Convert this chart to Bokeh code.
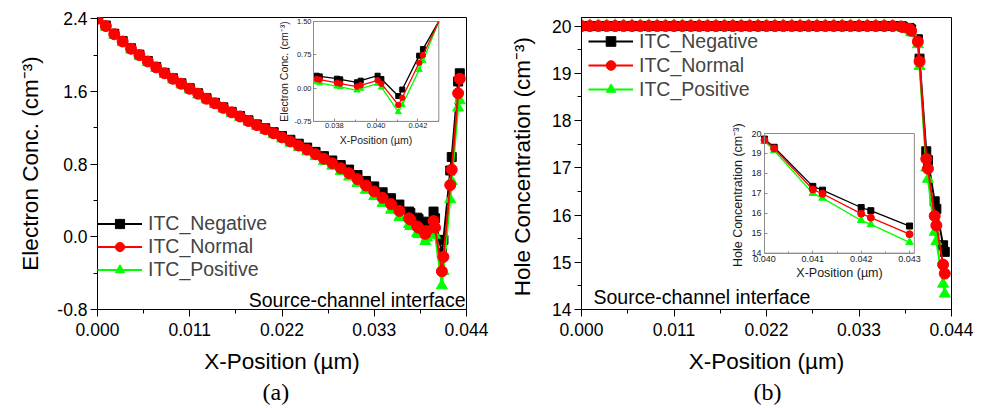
from bokeh.plotting import figure
from bokeh.models import (Range1d, LinearAxis, FixedTicker, PrintfTickFormatter,
                          Legend, LegendItem, Label, Title)
from bokeh.layouts import row
from bokeh.embed import file_html
from bokeh.resources import INLINE

# ------------------------------------------------------------------ data
series_names = ["ITC_Negative", "ITC_Normal", "ITC_Positive"]
series_colors = ["#000000", "#ff0000", "#00ff00"]
series_markers = ["square", "circle", "triangle"]

x_ticks = [0.000, 0.011, 0.022, 0.033, 0.044]
x_minor = [0.0055, 0.0165, 0.0275, 0.0385]
elec_ticks = [-0.8, 0.0, 0.8, 1.6, 2.4]
elec_minor = [-0.4, 0.4, 1.2, 2.0]
hole_ticks = [14, 15, 16, 17, 18, 19, 20]
hole_minor = [14.5, 15.5, 16.5, 17.5, 18.5, 19.5]
inset_a_xticks = [0.038, 0.040, 0.042]
inset_a_xminor = [0.037, 0.039, 0.041, 0.043]
inset_a_yticks = [-0.75, 0.0, 0.75, 1.50]
inset_b_xticks = [0.040, 0.041, 0.042, 0.043]
inset_b_xminor = [0.0405, 0.0415, 0.0425]
inset_b_yticks = [14, 15, 16, 17, 18, 19, 20]

# panel (a): electron concentration
elec_x = [0.000, 0.001, 0.002, 0.003, 0.004, 0.005, 0.006, 0.007, 0.008, 0.009,
          0.010, 0.011, 0.012, 0.013, 0.014, 0.015, 0.016, 0.017, 0.018, 0.019,
          0.020, 0.021, 0.022, 0.023, 0.024, 0.025, 0.026, 0.027, 0.028, 0.029,
          0.030, 0.031, 0.032, 0.033, 0.034, 0.035, 0.036,
          0.03715, 0.0373, 0.03812, 0.03828, 0.03908, 0.03926, 0.04007, 0.04025,
          0.04106, 0.04125, 0.04206, 0.04224, 0.0430, 0.0432]
elec_neg = [2.40, 2.325, 2.235, 2.155, 2.075, 2.005, 1.935, 1.87, 1.805, 1.745,
            1.69, 1.635, 1.58, 1.525, 1.475, 1.425, 1.375, 1.33, 1.282, 1.237,
            1.195, 1.152, 1.11, 1.068, 1.025, 0.982, 0.935, 0.888, 0.84, 0.79,
            0.74, 0.68, 0.615, 0.555, 0.49, 0.425, 0.355,
            0.278, 0.263, 0.211, 0.196, 0.13, 0.167, 0.278, 0.204,
            -0.18, -0.033, 0.73, 0.878, 1.71, 1.80]
elec_norm = [2.40, 2.32, 2.23, 2.15, 2.07, 2.00, 1.93, 1.865, 1.80, 1.74,
             1.685, 1.63, 1.575, 1.52, 1.47, 1.42, 1.37, 1.325, 1.275, 1.23,
             1.185, 1.14, 1.095, 1.05, 1.005, 0.96, 0.91, 0.86, 0.81, 0.755,
             0.70, 0.635, 0.565, 0.50, 0.43, 0.36, 0.285,
             0.204, 0.19, 0.115, 0.10, 0.033, 0.063, 0.174, 0.10,
             -0.38, -0.22, 0.57, 0.74, 1.58, 1.74]
elec_pos = [2.39, 2.31, 2.22, 2.14, 2.06, 1.99, 1.92, 1.855, 1.79, 1.73,
            1.675, 1.62, 1.565, 1.51, 1.46, 1.41, 1.36, 1.315, 1.265, 1.218,
            1.172, 1.126, 1.08, 1.032, 0.985, 0.938, 0.885, 0.832, 0.78, 0.72,
            0.66, 0.59, 0.515, 0.445, 0.37, 0.295, 0.215,
            0.137, 0.115, 0.04, 0.026, -0.05, -0.011, 0.10, 0.019,
            -0.537, -0.38, 0.41, 0.611, 1.42, 1.50]
# where the inset (a) curves leave its top-right corner (line end, no marker)
inset_a_end_x = [0.0430]
inset_a_end_y = [1.50, 1.50, 1.50]

# panel (b): hole concentration
hole_x = [0.000, 0.001, 0.002, 0.003, 0.004, 0.005, 0.006, 0.007, 0.008, 0.009,
          0.010, 0.011, 0.012, 0.013, 0.014, 0.015, 0.016, 0.017, 0.018, 0.019,
          0.020, 0.021, 0.022, 0.023, 0.024, 0.025, 0.026, 0.027, 0.028, 0.029,
          0.030, 0.031, 0.032, 0.033, 0.034, 0.035, 0.036, 0.037,
          0.038, 0.0382, 0.039, 0.0392, 0.040, 0.0402, 0.041, 0.0412,
          0.042, 0.0422, 0.043, 0.0432]
hole_neg = [20.0, 20.0, 20.0, 20.0, 20.0, 20.0, 20.0, 20.0, 20.0, 20.0,
            20.0, 20.0, 20.0, 20.0, 20.0, 20.0, 20.0, 20.0, 20.0, 20.0,
            20.0, 20.0, 20.0, 20.0, 20.0, 20.0, 20.0, 20.0, 20.0, 20.0,
            20.0, 20.0, 20.0, 20.0, 20.0, 20.0, 20.0, 20.0,
            20.0, 19.99, 19.96, 19.93, 19.72, 19.31, 17.35, 17.16,
            16.29, 16.13, 15.36, 15.22]
hole_norm = [20.0, 20.0, 20.0, 20.0, 20.0, 20.0, 20.0, 20.0, 20.0, 20.0,
             20.0, 20.0, 20.0, 20.0, 20.0, 20.0, 20.0, 20.0, 20.0, 20.0,
             20.0, 20.0, 20.0, 20.0, 20.0, 20.0, 20.0, 20.0, 20.0, 20.0,
             20.0, 20.0, 20.0, 20.0, 20.0, 20.0, 20.0, 20.0,
             19.99, 19.98, 19.94, 19.90, 19.67, 19.25, 17.19, 16.98,
             15.98, 15.78, 14.95, 14.76]
hole_pos = [20.02, 20.02, 20.02, 20.02, 20.02, 20.02, 20.02, 20.02, 20.02, 20.02,
            20.02, 20.02, 20.02, 20.02, 20.02, 20.02, 20.02, 20.02, 20.02, 20.02,
            20.02, 20.02, 20.02, 20.02, 20.02, 20.02, 20.02, 20.02, 20.02, 20.02,
            20.02, 20.02, 20.02, 20.02, 20.02, 20.02, 20.02, 20.01,
            19.98, 19.96, 19.92, 19.86, 19.61, 19.15, 17.00, 16.76,
            15.64, 15.44, 14.54, 14.33]

# ------------------------------------------------------------------ style
FONT = "Liberation Sans"
SERIF = "Liberation Serif"
INSET_GREY = "#8c8c8c"


def lin_range(v0, v1, p0, p1, f0, f1):
    """Range whose ends sit at pixels f0/f1 when v0->p0 and v1->p1."""
    k = (v1 - v0) / (p1 - p0)
    return Range1d(v0 + (f0 - p0) * k, v0 + (f1 - p0) * k)


def style_axis(ax, tick_px, label_px, tick_out, tick_in, minor_out, minor_in,
               standoff, label_standoff, line_color="#000000", text_color="#000000"):
    ax.major_label_text_font = FONT
    ax.major_label_text_font_size = f"{tick_px}px"
    ax.major_label_text_color = text_color
    ax.axis_label_text_font = FONT
    ax.axis_label_text_font_size = f"{label_px}px"
    ax.axis_label_text_font_style = "normal"
    ax.axis_label_text_color = text_color
    ax.axis_line_color = line_color
    ax.axis_line_width = 1
    ax.major_tick_line_color = line_color
    ax.minor_tick_line_color = line_color
    ax.major_tick_out = tick_out
    ax.major_tick_in = tick_in
    ax.minor_tick_out = minor_out
    ax.minor_tick_in = minor_in
    ax.major_label_standoff = standoff
    ax.axis_label_standoff = label_standoff


def make_main(width, height, bl, br, bt, bb, y_range, yticks, yminor, yfmt, ylabel,
              ylabel_standoff):
    p = figure(width=width, height=height, output_backend="svg", toolbar_location=None,
               x_range=Range1d(0.0, 0.044), y_range=y_range,
               min_border_left=bl, min_border_right=br, min_border_top=bt,
               min_border_bottom=bb)
    p.xgrid.visible = False
    p.ygrid.visible = False
    p.outline_line_color = "#000000"
    p.outline_line_width = 1
    p.background_fill_color = "white"
    p.border_fill_color = "white"
    p.xaxis.ticker = FixedTicker(ticks=x_ticks, minor_ticks=x_minor)
    p.xaxis.formatter = PrintfTickFormatter(format="%.3f")
    p.xaxis.axis_label = "X-Position (µm)"
    p.yaxis.ticker = FixedTicker(ticks=yticks, minor_ticks=yminor)
    p.yaxis.formatter = PrintfTickFormatter(format=yfmt)
    p.yaxis.axis_label = ylabel
    for ax in p.xaxis:
        style_axis(ax, 17.5, 22.5, 7, 0, 4, 0, 6, 10)
    for ax in p.yaxis:
        style_axis(ax, 17.5, 22.5, 7, 0, 4, 0, 3, ylabel_standoff)
    return p


def draw_series(p, xs, ys_list, sizes, lw, n_mark=None, **rng):
    items = []
    order = [0, 2, 1]  # red drawn on top
    rends = {}
    m = len(xs) if n_mark is None else n_mark
    for i in order:
        ln = p.line(xs, ys_list[i], line_color=series_colors[i], line_width=lw, **rng)
        sc = p.scatter(xs[:m], ys_list[i][:m], marker=series_markers[i], size=sizes[i],
                       fill_color=series_colors[i], line_color=series_colors[i], **rng)
        rends[i] = [ln, sc]
    for i in range(3):
        items.append(LegendItem(label=series_names[i], renderers=rends[i]))
    return items


def add_legend(p, items, loc, glyph_h):
    lg = Legend(items=items, location=loc, padding=0, margin=0, spacing=0,
                glyph_width=45, glyph_height=glyph_h, label_height=glyph_h,
                label_standoff=6, label_text_font=FONT, label_text_font_size="19.5px",
                border_line_alpha=0, background_fill_alpha=0)
    p.add_layout(lg, "center")


def add_inset(p, xs, ys_list, box_x, box_y, xticks, xminor, yticks, xfmt, yfmt,
              ylabel, tick_px, label_px, sizes, xl_standoff, yl_standoff, tstand,
              n_mark=None):
    p.quad(left=box_x[0], right=box_x[1], bottom=box_y[0], top=box_y[1],
           fill_color="white", line_color=INSET_GREY, line_width=1,
           x_range_name="ix", y_range_name="iy")
    draw_series(p, xs, ys_list, sizes, 1.3, n_mark=n_mark,
                x_range_name="ix", y_range_name="iy")
    ax = LinearAxis(x_range_name="ix", y_range_name="iy", fixed_location=box_y[0],
                    bounds=box_x, ticker=FixedTicker(ticks=xticks, minor_ticks=xminor),
                    formatter=PrintfTickFormatter(format=xfmt),
                    axis_label="X-Position (µm)")
    style_axis(ax, tick_px, label_px, 0, 3, 0, 2, tstand, xl_standoff,
               line_color=INSET_GREY, text_color="#1a1a1a")
    p.add_layout(ax, "below")
    ay = LinearAxis(x_range_name="ix", y_range_name="iy", fixed_location=box_x[0],
                    bounds=box_y, ticker=FixedTicker(ticks=yticks),
                    formatter=PrintfTickFormatter(format=yfmt), axis_label=ylabel)
    style_axis(ay, tick_px, label_px, 0, 3, 0, 2, tstand, yl_standoff,
               line_color=INSET_GREY, text_color="#1a1a1a")
    p.add_layout(ay, "left")


def add_text(p, text, x, y, align):
    p.add_layout(Label(x=x, y=y, x_units="screen", y_units="screen", text=text,
                       text_font=FONT, text_font_size="19.5px", text_align=align,
                       text_baseline="middle", text_color="#000000"))


def add_caption(p, text, offset):
    p.add_layout(Title(text=text, align="left", offset=offset, standoff=0,
                       text_font=SERIF, text_font_size="24px",
                       text_font_style="normal", text_color="#000000"), "below")


# ------------------------------------------------------------------ panel (a)
# frame: x 97..466, y 17..313 (page pixels)
pa = make_main(490, 408, 97, 24, 17, 95, lin_range(-0.8, 2.4, 313, 18.3, 313, 17),
               elec_ticks, elec_minor, "%.1f", "Electron Conc. (cm⁻³)", 11)
items_a = draw_series(pa, elec_x, [elec_neg, elec_norm, elec_pos], [9, 11, 11], 2)
add_legend(pa, items_a, (0, 28), 23)
add_text(pa, "Source-channel interface", 368, 10, "right")
add_caption(pa, "(a)", 165)

inset_a_box_x = (0.037, 0.043)
inset_a_box_y = (-0.75, 1.50)
pa.extra_x_ranges = {"ix": lin_range(0.037, 0.043, 313, 438.3, 97, 466)}
pa.extra_y_ranges = {"iy": lin_range(-0.75, 1.50, 122.3, 21, 313, 17)}
sel_a = [i for i, v in enumerate(elec_x) if inset_a_box_x[0] <= v < 0.0425]
ia_x = [elec_x[i] for i in sel_a] + inset_a_end_x
ia_ys = [[s[i] for i in sel_a] + [inset_a_end_y[k]]
         for k, s in enumerate([elec_neg, elec_norm, elec_pos])]
add_inset(pa, ia_x, ia_ys, inset_a_box_x, inset_a_box_y, inset_a_xticks,
          inset_a_xminor, inset_a_yticks, "%.3f", "%.2f", "Electron Conc. (cm⁻³)",
          7.5, 10.5, [5, 5.5, 6], 2, 1, 2, n_mark=len(sel_a))

# ------------------------------------------------------------------ panel (b)
# frame: x 581..951, y 12..309 (page pixels); figure starts at x=490
pb = make_main(495, 408, 91, 34, 12, 99, lin_range(14, 20, 309, 20.7, 309, 12),
               hole_ticks, hole_minor, "%d", "Hole Concentration  (cm⁻³)", 14)
items_b = draw_series(pb, hole_x, [hole_neg, hole_norm, hole_pos], [9, 11, 11], 2)
add_legend(pb, items_b, (7, 208), 24)
add_text(pb, "Source-channel interface", 12, 13, "left")
add_caption(pb, "(b)", 172)

inset_b_box_x = (0.040, 0.0431)
inset_b_box_y = (14, 20)
pb.extra_x_ranges = {"ix": lin_range(0.040, 0.043, 764, 909, 581, 951)}
pb.extra_y_ranges = {"iy": lin_range(14, 20, 251.7, 130, 309, 12)}
sel_b = [i for i, v in enumerate(hole_x) if inset_b_box_x[0] <= v <= 0.0430]
ib_x = [hole_x[i] for i in sel_b]
ib_ys = [[s[i] for i in sel_b] for s in [hole_neg, hole_norm, hole_pos]]
add_inset(pb, ib_x, ib_ys, inset_b_box_x, inset_b_box_y, inset_b_xticks,
          inset_b_xminor, inset_b_yticks, "%.3f", "%d", "Hole Concentration  (cm⁻³)",
          9, 12.5, [6, 7, 7.5], 0, 3, 3)

layout = row(pa, pb)
open("out.html", "w").write(file_html(layout, INLINE))
